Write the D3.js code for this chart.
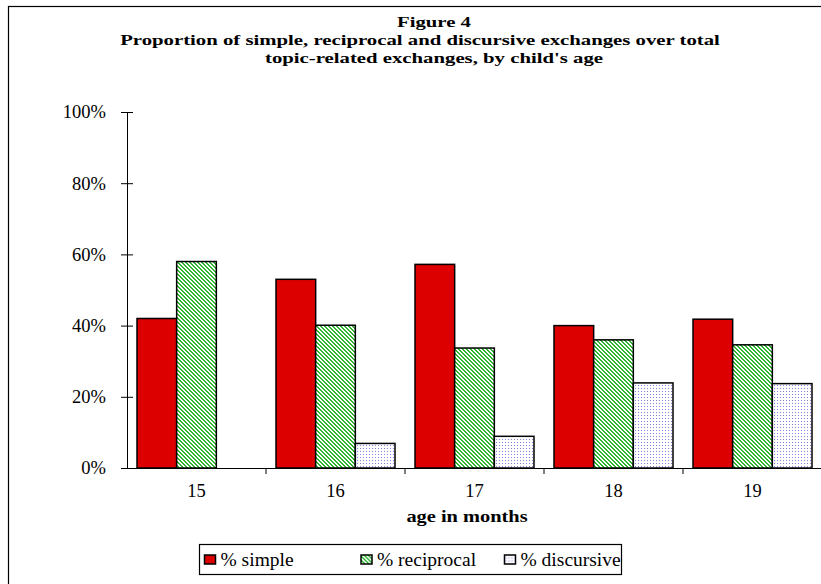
<!DOCTYPE html>
<html>
<head>
<meta charset="utf-8">
<style>
  body { margin: 0; background: #fff; }
  text { font-family: "Liberation Serif", "Times New Roman", serif; }
</style>
</head>
<body>
<div id="chart"></div>

<script src="https://d3js.org/d3.v7.min.js"></script>
<script>

	var w = 821, h = 584;

	// data
	var ages = ["15", "16", "17", "18", "19"];
	var series = ["simple", "reciprocal", "discursive"];
	var legendLabels = ["% simple", "% reciprocal", "% discursive"];
	var simple = [0.42, 0.53, 0.572, 0.40, 0.418];
	var reciprocal = [0.58, 0.401, 0.337, 0.36, 0.346];
	var discursive = [0, 0.069, 0.089, 0.239, 0.237];
	var yTicks = [0, 0.2, 0.4, 0.6, 0.8, 1];
	var titleLines = ["Figure 4",
		"Proportion of simple, reciprocal and discursive exchanges over total",
		"topic-related exchanges, by child's age"];

	var values = { simple: simple, reciprocal: reciprocal, discursive: discursive };

	var svg = d3.select("#chart")
				.append("svg")
				.attr("width", w)
				.attr("height", h);

	// patterns for the hatched / dotted bars
	var defs = svg.append("defs");
	var hatch = defs.append("pattern")
		.attr("id", "hatch")
		.attr("patternUnits", "userSpaceOnUse")
		.attr("width", 4).attr("height", 4);
	hatch.append("rect").attr("width", 4).attr("height", 4).attr("fill", "#fff");
	// 2px wide "\" stripe, drawn pixel by pixel
	[[0,0],[1,0],[1,1],[2,1],[2,2],[3,2],[3,3],[0,3]].forEach(function(p) {
		hatch.append("rect")
			.attr("x", p[0]).attr("y", p[1])
			.attr("width", 1).attr("height", 1)
			.attr("fill", "#2fb52f");
	});

	var dots = defs.append("pattern")
		.attr("id", "dots")
		.attr("patternUnits", "userSpaceOnUse")
		.attr("width", 3).attr("height", 3);
	dots.append("rect").attr("width", 3).attr("height", 3).attr("fill", "#fff");
	dots.append("rect").attr("x", 1).attr("y", 1).attr("width", 1).attr("height", 1).attr("fill", "#7f7fe8");

	var fills = { simple: "#dd0000", reciprocal: "url(#hatch)", discursive: "url(#dots)" };

	// outer frame
	svg.append("rect")
		.attr("x", 8.5).attr("y", 6.5)
		.attr("width", 840).attr("height", 620)
		.attr("fill", "none")
		.attr("stroke", "#000")
		.attr("stroke-width", 1.2);

	// title, stretched sideways like the original
	var sx = 1.34;
	svg.append("g")
		.selectAll("text")
		.data(titleLines)
		.enter()
		.append("text")
		.attr("transform", function(d, i) {
			var cx = i == 1 ? 420 : 434;
			return "translate(" + cx + "," + (27 + i * 18) + ") scale(" + sx + ",1)";
		})
		.attr("text-anchor", "middle")
		.attr("font-weight", "bold")
		.attr("font-size", "15.5px")
		.text(function(d) { return d; });

	// scales
	var x0 = d3.scaleBand().domain(ages).range([127, 822]);
	var x1 = d3.scaleBand().domain(series).range([10, x0.bandwidth() - 10]);
	var y = d3.scaleLinear().domain([0, 1]).range([468, 112]);

	// y axis, ticks crossing the line
	var yAxis = svg.append("g")
		.attr("transform", "translate(127,0)")
		.call(d3.axisLeft(y).tickValues(yTicks).tickFormat(d3.format(".0%")).tickSize(6).tickPadding(15).tickSizeOuter(0));
	yAxis.selectAll(".tick line").attr("x2", 6).attr("x1", -6);
	yAxis.select(".domain").attr("stroke-width", 1);
	yAxis.selectAll("text").attr("font-size", "18.5px").attr("fill", "#000");

	// bars
	var groups = svg.append("g")
		.selectAll("g")
		.data(ages)
		.enter()
		.append("g")
		.attr("transform", function(d) { return "translate(" + x0(d) + ",0)"; });

	groups.selectAll("rect")
		.data(function(d, i) {
			return series.map(function(s) { return { key: s, value: values[s][i] }; })
				.filter(function(e) { return e.value > 0; });
		})
		.enter()
		.append("rect")
		.attr("x", function(d) { return x1(d.key); })
		.attr("width", x1.bandwidth())
		.attr("y", function(d) { return y(d.value); })
		.attr("height", function(d) { return y(0) - y(d.value); })
		.attr("fill", function(d) { return fills[d.key]; })
		.attr("stroke", "#000")
		.attr("stroke-width", 1.5);

	// x axis: line, boundary ticks, centred labels
	var xAxis = svg.append("g")
		.attr("transform", "translate(0,468)")
		.call(d3.axisBottom(x0).tickSize(0).tickPadding(16).tickSizeOuter(0));
	xAxis.select(".domain").attr("stroke-width", 1.2);
	xAxis.selectAll("text").attr("font-size", "18.5px").attr("fill", "#000");

	xAxis.selectAll(".bound")
		.data(ages.slice(1))
		.enter()
		.append("line")
		.attr("class", "bound")
		.attr("x1", function(d) { return x0(d); })
		.attr("x2", function(d) { return x0(d); })
		.attr("y1", 0)
		.attr("y2", 6)
		.attr("stroke", "#000");

	svg.append("text")
		.attr("transform", "translate(467,522) scale(1.2,1)")
		.attr("text-anchor", "middle")
		.attr("font-weight", "bold")
		.attr("font-size", "17px")
		.text("age in months");

	// legend
	var legend = svg.append("g").attr("transform", "translate(199.5,544.5)");
	legend.append("rect")
		.attr("width", 422).attr("height", 30)
		.attr("fill", "#fff")
		.attr("stroke", "#000")
		.attr("stroke-width", 1.2);

	var legendX = [5, 161.5, 305];
	var items = legend.selectAll(".item")
		.data(series)
		.enter()
		.append("g")
		.attr("class", "item")
		.attr("transform", function(d, i) { return "translate(" + legendX[i] + ",0)"; });

	items.append("rect")
		.attr("x", 0).attr("y", 10.5)
		.attr("width", 11).attr("height", 9)
		.attr("fill", function(d) { return fills[d]; })
		.attr("stroke", "#000")
		.attr("stroke-width", 1.5);

	items.append("text")
		.attr("x", 16)
		.attr("y", 21)
		.attr("font-size", "19.5px")
		.text(function(d, i) { return legendLabels[i]; });

</script>
</body>
</html>
